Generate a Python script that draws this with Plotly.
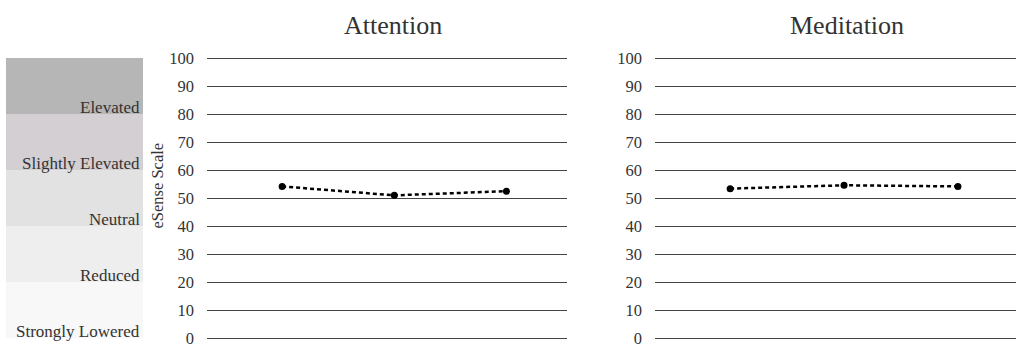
import plotly.graph_objects as go

# eSense readings per session
sessions = ["1", "2", "3"]
attention = [54.2, 51.0, 52.5]
meditation = [53.4, 54.6, 54.2]

# Interpretation bands of the eSense scale (low, high, label, fill)
band_labels = ["Strongly Lowered", "Reduced", "Neutral", "Slightly Elevated", "Elevated"]
band_low = [0, 20, 40, 60, 80]
band_high = [20, 40, 60, 80, 100]
band_colors = ["#f8f8f8", "#eeeeee", "#e2e2e2", "#d3cfd3", "#b6b6b6"]

y_ticks = [0, 10, 20, 30, 40, 50, 60, 70, 80, 90, 100]

W, H = 1016, 354
FONT = "Liberation Serif"
TXT = "#333333"

# pixel geometry of the value axis: 100 sits at y=54, 0 at y=345
Y_TOP, Y_BOT = 54.0, 345.0
PX = (Y_BOT - Y_TOP) / 100.0
y_dom = [(H - (Y_BOT + PX)) / H, (H - (Y_TOP - PX)) / H]


def value_to_paper(v):
    """Paper y-fraction of a value on the eSense axis."""
    return (H - (Y_BOT - v * PX)) / H


xs = list(range(len(sessions)))

fig = go.Figure()

line_style = dict(color="black", width=2.5, dash="4px,3px")
marker_style = dict(color="black", size=7)

fig.add_trace(go.Scatter(x=xs, y=attention, mode="lines+markers",
                         line=line_style, marker=marker_style,
                         xaxis="x", yaxis="y", hoverinfo="y",
                         text=sessions, showlegend=False))
fig.add_trace(go.Scatter(x=xs, y=meditation, mode="lines+markers",
                         line=line_style, marker=marker_style,
                         xaxis="x2", yaxis="y2", hoverinfo="y",
                         text=sessions, showlegend=False))

yax = dict(range=[-1, 101], tickvals=y_ticks, showgrid=True,
           gridcolor="#444444", gridwidth=1, zeroline=False, showline=False,
           ticks="", tickfont=dict(family=FONT, size=16.5, color=TXT),
           ticklabelstandoff=12, ticklabeloverflow="allow",
           fixedrange=True, domain=y_dom)
xax = dict(showgrid=False, zeroline=False, showline=False,
           showticklabels=False, ticks="", fixedrange=True)

fig.update_layout(
    width=W, height=H,
    margin=dict(l=0, r=0, t=0, b=0, pad=0),
    paper_bgcolor="white", plot_bgcolor="white",
    font=dict(family=FONT, color=TXT),
    xaxis=dict(xax, domain=[207 / W, 567 / W], range=[-0.67, 2.54]),
    yaxis=dict(yax, anchor="x"),
    xaxis2=dict(xax, domain=[655 / W, 1.0], range=[-0.66, 2.51]),
    yaxis2=dict(yax, anchor="x2"),
)

# Scale bands beside the first panel, aligned to its y axis
for lo, hi, lab, col in zip(band_low, band_high, band_labels, band_colors):
    fig.add_shape(type="rect", xref="paper", yref="paper",
                  x0=6 / W, x1=143 / W,
                  y0=value_to_paper(lo), y1=value_to_paper(hi),
                  fillcolor=col, line=dict(width=0), layer="below")
    fig.add_annotation(xref="paper", yref="paper", x=141 / W,
                       y=value_to_paper(lo) - 3.8 / H,
                       text=lab, showarrow=False, xanchor="right",
                       yanchor="bottom", borderpad=0,
                       font=dict(family=FONT, size=17, color=TXT))

# Panel titles
fig.add_annotation(xref="paper", yref="paper", x=393 / W, y=1 - 20 / H,
                   text="Attention", showarrow=False, xanchor="center",
                   yanchor="middle", font=dict(family=FONT, size=26, color=TXT))
fig.add_annotation(xref="paper", yref="paper", x=847 / W, y=1 - 20 / H,
                   text="Meditation", showarrow=False, xanchor="center",
                   yanchor="middle", font=dict(family=FONT, size=26, color=TXT))

# Axis caption
fig.add_annotation(xref="paper", yref="paper", x=158 / W,
                   y=value_to_paper(54.5),
                   text="eSense Scale", showarrow=False, textangle=-90,
                   xanchor="center", yanchor="middle",
                   font=dict(family=FONT, size=16.5, color=TXT))

fig.write_html("out.html")
